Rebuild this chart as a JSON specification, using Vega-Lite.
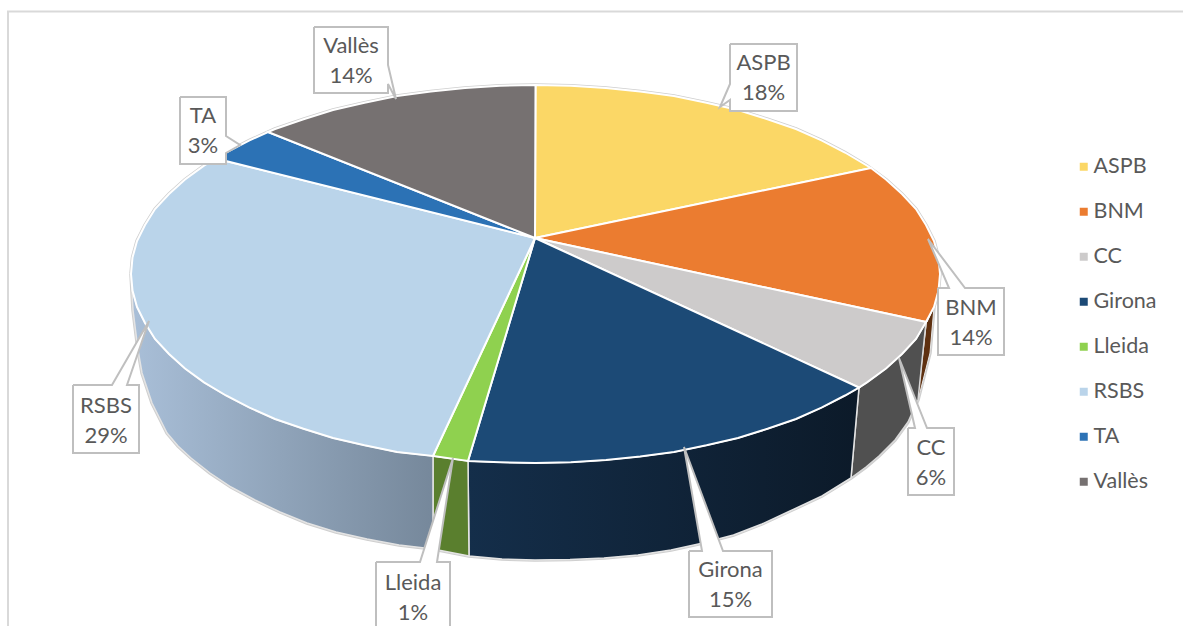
{
"$schema":"https://vega.github.io/schema/vega-lite/v6.json",
"width":1183,"height":626,"padding":0,"autosize":{"type":"none"},"background":"white",
"config":{"view":{"stroke":null},"font":"Lato"},
"datasets":{
"frame":[{"o":1,"x":8,"y":626},{"o":2,"x":8,"y":11.5},{"o":3,"x":1183,"y":11.5}],
"rim":[{"o":1,"x":131,"y":274},{"o":1.5,"x":132.5,"y":257.5},{"o":2,"x":137,"y":241},{"o":2.5,"x":145,"y":225},{"o":3,"x":155,"y":209},{"o":3.5,"x":169,"y":194},{"o":4,"x":185,"y":179.5},{"o":4.5,"x":204,"y":165.6},{"o":5,"x":226,"y":152.5},{"o":5.5,"x":249.5,"y":140.4},{"o":6,"x":275,"y":129},{"o":6.5,"x":303.5,"y":119.2},{"o":7,"x":333,"y":110},{"o":7.5,"x":364.5,"y":102.7},{"o":8,"x":397,"y":96},{"o":8.5,"x":430.8,"y":91.4},{"o":9,"x":465,"y":88},{"o":9.5,"x":500.2,"y":85.7},{"o":10,"x":535.5,"y":85},{"o":10.5,"x":570.8,"y":85.7},{"o":11,"x":606,"y":88},{"o":11.5,"x":640.2,"y":91.4},{"o":12,"x":674,"y":96},{"o":12.5,"x":706.5,"y":102.7},{"o":13,"x":738,"y":110},{"o":13.5,"x":767.5,"y":119.2},{"o":14,"x":796,"y":129},{"o":14.5,"x":821.5,"y":140.4},{"o":15,"x":845,"y":152.5},{"o":15.5,"x":867,"y":165.6},{"o":16,"x":886,"y":179.5},{"o":16.5,"x":902,"y":194},{"o":17,"x":916,"y":209},{"o":17.5,"x":926,"y":225},{"o":18,"x":934,"y":241},{"o":18.5,"x":938.5,"y":257.5},{"o":19,"x":940,"y":274},{"o":19.5,"x":938.5,"y":290.5},{"o":20,"x":934,"y":307},{"o":21,"x":930,"y":353},{"o":22,"x":918,"y":400},{"o":22.5,"x":913,"y":411},{"o":23,"x":908,"y":422},{"o":23.5,"x":895,"y":440},{"o":24,"x":879,"y":456},{"o":24.5,"x":866,"y":467},{"o":25,"x":851,"y":478},{"o":25.5,"x":822,"y":496},{"o":26,"x":790,"y":511},{"o":26.5,"x":762,"y":524},{"o":27,"x":733.5,"y":535},{"o":27.5,"x":703,"y":543},{"o":28,"x":671,"y":550},{"o":28.5,"x":638,"y":555},{"o":29,"x":604,"y":558},{"o":29.5,"x":570,"y":559.5},{"o":30,"x":535,"y":560},{"o":30.5,"x":502,"y":559},{"o":31,"x":469,"y":556},{"o":32,"x":433,"y":549},{"o":33,"x":399,"y":545},{"o":33.5,"x":367,"y":539},{"o":34,"x":336,"y":532},{"o":34.5,"x":307,"y":523},{"o":35,"x":280,"y":512},{"o":35.5,"x":255,"y":500},{"o":36,"x":231,"y":487},{"o":36.5,"x":210,"y":473},{"o":37,"x":191,"y":458},{"o":37.5,"x":178,"y":446},{"o":38,"x":167,"y":433},{"o":38.5,"x":152,"y":403},{"o":39,"x":142,"y":373},{"o":40,"x":138,"y":350},{"o":41,"x":133,"y":310},{"o":42,"x":131,"y":274}],
"sides":[
{"slice":"BNM","o":1,"x":927,"y":322},{"slice":"BNM","o":2,"x":934,"y":307},{"slice":"BNM","o":3,"x":930,"y":353},{"slice":"BNM","o":4,"x":918,"y":400},
{"slice":"CC","o":1,"x":926,"y":322},{"slice":"CC","o":2,"x":916,"y":339},{"slice":"CC","o":2.5,"x":902,"y":354},{"slice":"CC","o":3,"x":886,"y":368.5},{"slice":"CC","o":3.5,"x":867,"y":382.4},{"slice":"CC","o":4,"x":859,"y":387.5},{"slice":"CC","o":5,"x":851,"y":478},{"slice":"CC","o":5.5,"x":866,"y":467},{"slice":"CC","o":6,"x":879,"y":456},{"slice":"CC","o":6.5,"x":895,"y":440},{"slice":"CC","o":7,"x":908,"y":422},{"slice":"CC","o":7.5,"x":913,"y":411},{"slice":"CC","o":8,"x":918,"y":400},{"slice":"CC","o":9,"x":926,"y":322},
{"slice":"Girona","o":1,"x":468,"y":461},{"slice":"Girona","o":1.5,"x":500.2,"y":462.3},{"slice":"Girona","o":2,"x":535.5,"y":463},{"slice":"Girona","o":2.5,"x":570.8,"y":462.3},{"slice":"Girona","o":3,"x":606,"y":460},{"slice":"Girona","o":3.5,"x":640.2,"y":456.6},{"slice":"Girona","o":4,"x":674,"y":452},{"slice":"Girona","o":4.5,"x":706.5,"y":445.3},{"slice":"Girona","o":5,"x":738,"y":438},{"slice":"Girona","o":5.5,"x":767.5,"y":428.8},{"slice":"Girona","o":6,"x":796,"y":419},{"slice":"Girona","o":6.5,"x":821.5,"y":407.6},{"slice":"Girona","o":7,"x":845,"y":395.5},{"slice":"Girona","o":8,"x":859,"y":387.5},{"slice":"Girona","o":9,"x":851,"y":478},{"slice":"Girona","o":9.5,"x":822,"y":496},{"slice":"Girona","o":10,"x":790,"y":511},{"slice":"Girona","o":10.5,"x":762,"y":524},{"slice":"Girona","o":11,"x":733.5,"y":535},{"slice":"Girona","o":11.5,"x":703,"y":543},{"slice":"Girona","o":12,"x":671,"y":550},{"slice":"Girona","o":12.5,"x":638,"y":555},{"slice":"Girona","o":13,"x":604,"y":558},{"slice":"Girona","o":13.5,"x":570,"y":559.5},{"slice":"Girona","o":14,"x":535,"y":560},{"slice":"Girona","o":14.5,"x":502,"y":559},{"slice":"Girona","o":15,"x":469,"y":556},{"slice":"Girona","o":16,"x":468,"y":461},
{"slice":"Lleida","o":1,"x":433,"y":456},{"slice":"Lleida","o":2,"x":468,"y":461},{"slice":"Lleida","o":3,"x":469,"y":556},{"slice":"Lleida","o":4,"x":433,"y":549},{"slice":"Lleida","o":5,"x":433,"y":456},
{"slice":"RSBS","o":1,"x":433,"y":456},{"slice":"RSBS","o":2,"x":397,"y":452},{"slice":"RSBS","o":2.5,"x":364.5,"y":445.3},{"slice":"RSBS","o":3,"x":333,"y":438},{"slice":"RSBS","o":3.5,"x":303.5,"y":428.8},{"slice":"RSBS","o":4,"x":275,"y":419},{"slice":"RSBS","o":4.5,"x":249.5,"y":407.6},{"slice":"RSBS","o":5,"x":226,"y":395.5},{"slice":"RSBS","o":5.5,"x":204,"y":382.4},{"slice":"RSBS","o":6,"x":185,"y":368.5},{"slice":"RSBS","o":6.5,"x":169,"y":354},{"slice":"RSBS","o":7,"x":155,"y":339},{"slice":"RSBS","o":7.5,"x":145,"y":323},{"slice":"RSBS","o":8,"x":137,"y":307},{"slice":"RSBS","o":8.5,"x":132.5,"y":290.5},{"slice":"RSBS","o":9,"x":131,"y":274},{"slice":"RSBS","o":10,"x":133,"y":310},{"slice":"RSBS","o":11,"x":138,"y":350},{"slice":"RSBS","o":12,"x":142,"y":373},{"slice":"RSBS","o":12.5,"x":152,"y":403},{"slice":"RSBS","o":13,"x":167,"y":433},{"slice":"RSBS","o":13.5,"x":178,"y":446},{"slice":"RSBS","o":14,"x":191,"y":458},{"slice":"RSBS","o":14.5,"x":210,"y":473},{"slice":"RSBS","o":15,"x":231,"y":487},{"slice":"RSBS","o":15.5,"x":255,"y":500},{"slice":"RSBS","o":16,"x":280,"y":512},{"slice":"RSBS","o":16.5,"x":307,"y":523},{"slice":"RSBS","o":17,"x":336,"y":532},{"slice":"RSBS","o":17.5,"x":367,"y":539},{"slice":"RSBS","o":18,"x":399,"y":545},{"slice":"RSBS","o":19,"x":433,"y":549},{"slice":"RSBS","o":20,"x":433,"y":456}
],
"tops":[
{"slice":"ASPB","o":0,"x":535,"y":238},{"slice":"ASPB","o":1,"x":535.5,"y":85},{"slice":"ASPB","o":1.5,"x":570.8,"y":85.7},{"slice":"ASPB","o":2,"x":606,"y":88},{"slice":"ASPB","o":2.5,"x":640.2,"y":91.4},{"slice":"ASPB","o":3,"x":674,"y":96},{"slice":"ASPB","o":3.5,"x":706.5,"y":102.7},{"slice":"ASPB","o":4,"x":738,"y":110},{"slice":"ASPB","o":4.5,"x":767.5,"y":119.2},{"slice":"ASPB","o":5,"x":796,"y":129},{"slice":"ASPB","o":5.5,"x":821.5,"y":140.4},{"slice":"ASPB","o":6,"x":845,"y":152.5},{"slice":"ASPB","o":7,"x":871,"y":168},{"slice":"ASPB","o":8,"x":535,"y":238},
{"slice":"BNM","o":0,"x":535,"y":238},{"slice":"BNM","o":1,"x":871,"y":168},{"slice":"BNM","o":2,"x":886,"y":179.5},{"slice":"BNM","o":2.5,"x":902,"y":194},{"slice":"BNM","o":3,"x":916,"y":209},{"slice":"BNM","o":3.5,"x":926,"y":225},{"slice":"BNM","o":4,"x":934,"y":241},{"slice":"BNM","o":4.5,"x":938.5,"y":257.5},{"slice":"BNM","o":5,"x":940,"y":274},{"slice":"BNM","o":5.5,"x":938.5,"y":290.5},{"slice":"BNM","o":6,"x":934,"y":307},{"slice":"BNM","o":7,"x":926,"y":322},{"slice":"BNM","o":8,"x":535,"y":238},
{"slice":"CC","o":0,"x":535,"y":238},{"slice":"CC","o":1,"x":926,"y":322},{"slice":"CC","o":2,"x":916,"y":339},{"slice":"CC","o":2.5,"x":902,"y":354},{"slice":"CC","o":3,"x":886,"y":368.5},{"slice":"CC","o":3.5,"x":867,"y":382.4},{"slice":"CC","o":4,"x":859,"y":387.5},{"slice":"CC","o":5,"x":535,"y":238},
{"slice":"Girona","o":0,"x":535,"y":238},{"slice":"Girona","o":1,"x":859,"y":387.5},{"slice":"Girona","o":2,"x":845,"y":395.5},{"slice":"Girona","o":2.5,"x":821.5,"y":407.6},{"slice":"Girona","o":3,"x":796,"y":419},{"slice":"Girona","o":3.5,"x":767.5,"y":428.8},{"slice":"Girona","o":4,"x":738,"y":438},{"slice":"Girona","o":4.5,"x":706.5,"y":445.3},{"slice":"Girona","o":5,"x":674,"y":452},{"slice":"Girona","o":5.5,"x":640.2,"y":456.6},{"slice":"Girona","o":6,"x":606,"y":460},{"slice":"Girona","o":6.5,"x":570.8,"y":462.3},{"slice":"Girona","o":7,"x":535.5,"y":463},{"slice":"Girona","o":7.5,"x":500.2,"y":462.3},{"slice":"Girona","o":8,"x":468,"y":461},{"slice":"Girona","o":9,"x":535,"y":238},
{"slice":"Lleida","o":0,"x":535,"y":238},{"slice":"Lleida","o":1,"x":468,"y":461},{"slice":"Lleida","o":2,"x":433,"y":456},{"slice":"Lleida","o":3,"x":535,"y":238},
{"slice":"RSBS","o":0,"x":535,"y":238},{"slice":"RSBS","o":1,"x":433,"y":456},{"slice":"RSBS","o":2,"x":397,"y":452},{"slice":"RSBS","o":2.5,"x":364.5,"y":445.3},{"slice":"RSBS","o":3,"x":333,"y":438},{"slice":"RSBS","o":3.5,"x":303.5,"y":428.8},{"slice":"RSBS","o":4,"x":275,"y":419},{"slice":"RSBS","o":4.5,"x":249.5,"y":407.6},{"slice":"RSBS","o":5,"x":226,"y":395.5},{"slice":"RSBS","o":5.5,"x":204,"y":382.4},{"slice":"RSBS","o":6,"x":185,"y":368.5},{"slice":"RSBS","o":6.5,"x":169,"y":354},{"slice":"RSBS","o":7,"x":155,"y":339},{"slice":"RSBS","o":7.5,"x":145,"y":323},{"slice":"RSBS","o":8,"x":137,"y":307},{"slice":"RSBS","o":8.5,"x":132.5,"y":290.5},{"slice":"RSBS","o":9,"x":131,"y":274},{"slice":"RSBS","o":9.5,"x":132.5,"y":257.5},{"slice":"RSBS","o":10,"x":137,"y":241},{"slice":"RSBS","o":10.5,"x":145,"y":225},{"slice":"RSBS","o":11,"x":155,"y":209},{"slice":"RSBS","o":11.5,"x":169,"y":194},{"slice":"RSBS","o":12,"x":185,"y":179.5},{"slice":"RSBS","o":12.5,"x":204,"y":165.6},{"slice":"RSBS","o":13,"x":216,"y":158.5},{"slice":"RSBS","o":14,"x":535,"y":238},
{"slice":"TA","o":0,"x":535,"y":238},{"slice":"TA","o":1,"x":216,"y":158.5},{"slice":"TA","o":2,"x":226,"y":152.5},{"slice":"TA","o":2.5,"x":249.5,"y":140.4},{"slice":"TA","o":3,"x":268,"y":132},{"slice":"TA","o":4,"x":535,"y":238},
{"slice":"Vallès","o":0,"x":535,"y":238},{"slice":"Vallès","o":1,"x":268,"y":132},{"slice":"Vallès","o":2,"x":275,"y":129},{"slice":"Vallès","o":2.5,"x":303.5,"y":119.2},{"slice":"Vallès","o":3,"x":333,"y":110},{"slice":"Vallès","o":3.5,"x":364.5,"y":102.7},{"slice":"Vallès","o":4,"x":397,"y":96},{"slice":"Vallès","o":4.5,"x":430.8,"y":91.4},{"slice":"Vallès","o":5,"x":465,"y":88},{"slice":"Vallès","o":5.5,"x":500.2,"y":85.7},{"slice":"Vallès","o":6,"x":535.5,"y":85},{"slice":"Vallès","o":7,"x":535,"y":238}
],
"callouts":[
{"slice":"Vallès","o":1,"x":314,"y":27},{"slice":"Vallès","o":2,"x":388,"y":27},{"slice":"Vallès","o":3,"x":388,"y":65},{"slice":"Vallès","o":4,"x":396,"y":99},{"slice":"Vallès","o":5,"x":388,"y":84},{"slice":"Vallès","o":6,"x":388,"y":93},{"slice":"Vallès","o":7,"x":314,"y":93},{"slice":"Vallès","o":8,"x":314,"y":27},
{"slice":"TA","o":1,"x":180,"y":97},{"slice":"TA","o":2,"x":226,"y":97},{"slice":"TA","o":3,"x":226,"y":136},{"slice":"TA","o":4,"x":240,"y":145},{"slice":"TA","o":5,"x":226,"y":153},{"slice":"TA","o":6,"x":226,"y":164},{"slice":"TA","o":7,"x":180,"y":164},{"slice":"TA","o":8,"x":180,"y":97},
{"slice":"ASPB","o":1,"x":730,"y":44},{"slice":"ASPB","o":2,"x":797,"y":44},{"slice":"ASPB","o":3,"x":797,"y":111},{"slice":"ASPB","o":4,"x":730,"y":111},{"slice":"ASPB","o":5,"x":730,"y":100},{"slice":"ASPB","o":6,"x":720,"y":107},{"slice":"ASPB","o":7,"x":730,"y":84},{"slice":"ASPB","o":8,"x":730,"y":44},
{"slice":"BNM","o":1,"x":938,"y":288},{"slice":"BNM","o":2,"x":949,"y":288},{"slice":"BNM","o":3,"x":928,"y":239},{"slice":"BNM","o":4,"x":965,"y":288},{"slice":"BNM","o":5,"x":1004,"y":288},{"slice":"BNM","o":6,"x":1004,"y":355},{"slice":"BNM","o":7,"x":938,"y":355},{"slice":"BNM","o":8,"x":938,"y":288},
{"slice":"CC","o":1,"x":908,"y":428},{"slice":"CC","o":2,"x":915,"y":428},{"slice":"CC","o":3,"x":899,"y":358},{"slice":"CC","o":4,"x":927,"y":428},{"slice":"CC","o":5,"x":954,"y":428},{"slice":"CC","o":6,"x":954,"y":495},{"slice":"CC","o":7,"x":908,"y":495},{"slice":"CC","o":8,"x":908,"y":428},
{"slice":"Girona","o":1,"x":689,"y":551},{"slice":"Girona","o":2,"x":702,"y":551},{"slice":"Girona","o":3,"x":684,"y":447},{"slice":"Girona","o":4,"x":723,"y":551},{"slice":"Girona","o":5,"x":772,"y":551},{"slice":"Girona","o":6,"x":772,"y":617},{"slice":"Girona","o":7,"x":689,"y":617},{"slice":"Girona","o":8,"x":689,"y":551},
{"slice":"Lleida","o":1,"x":376,"y":562},{"slice":"Lleida","o":2,"x":420,"y":562},{"slice":"Lleida","o":3,"x":453,"y":458},{"slice":"Lleida","o":4,"x":437,"y":562},{"slice":"Lleida","o":5,"x":450,"y":562},{"slice":"Lleida","o":6,"x":450,"y":640},{"slice":"Lleida","o":7,"x":376,"y":640},{"slice":"Lleida","o":8,"x":376,"y":562},
{"slice":"RSBS","o":1,"x":73,"y":385},{"slice":"RSBS","o":2,"x":112,"y":385},{"slice":"RSBS","o":3,"x":149,"y":321},{"slice":"RSBS","o":4,"x":127,"y":385},{"slice":"RSBS","o":5,"x":139,"y":385},{"slice":"RSBS","o":6,"x":139,"y":453},{"slice":"RSBS","o":7,"x":73,"y":453},{"slice":"RSBS","o":8,"x":73,"y":385}
],
"labels":[
{"label":"Vallès\n14%","x":351,"y":46},
{"label":"TA\n3%","x":203,"y":116},
{"label":"ASPB\n18%","x":763.5,"y":63},
{"label":"BNM\n14%","x":971,"y":308},
{"label":"CC\n6%","x":931,"y":448},
{"label":"Girona\n15%","x":730.5,"y":570},
{"label":"Lleida\n1%","x":413,"y":583},
{"label":"RSBS\n29%","x":106,"y":406}
]
},
"encoding":{
"x":{"field":"x","type":"quantitative","scale":{"domain":[0,1183],"nice":false,"zero":false},"axis":null},
"y":{"field":"y","type":"quantitative","scale":{"domain":[626,0],"nice":false,"zero":false},"axis":null},
"order":{"field":"o","type":"quantitative"}
},
"layer":[
{"data":{"name":"frame"},"mark":{"type":"line","stroke":"#d9d9d9","strokeWidth":2}},
{"data":{"name":"rim"},"mark":{"type":"line","stroke":"#cfcfcf","strokeWidth":3.5}},
{"data":{"name":"sides"},"transform":[{"filter":"datum.slice==='BNM'"}],"mark":{"type":"line","fill":"#5e3010","stroke":"#e8e8e8","strokeWidth":1}},
{"data":{"name":"sides"},"transform":[{"filter":"datum.slice==='CC'"}],"mark":{"type":"line","fill":"#505050","stroke":"#d8d8d8","strokeWidth":1.5}},
{"data":{"name":"sides"},"transform":[{"filter":"datum.slice==='Girona'"}],"mark":{"type":"line","fill":{"gradient":"linear","x1":0,"y1":0,"x2":1,"y2":0,"stops":[{"offset":0,"color":"#142e4a"},{"offset":1,"color":"#0c1a29"}]},"stroke":"#e4e4e4","strokeWidth":1.5}},
{"data":{"name":"sides"},"transform":[{"filter":"datum.slice==='Lleida'"}],"mark":{"type":"line","fill":"#5a7f2e","stroke":"#e4e4e4","strokeWidth":1.5}},
{"data":{"name":"sides"},"transform":[{"filter":"datum.slice==='RSBS'"}],"mark":{"type":"line","fill":{"gradient":"linear","x1":0,"y1":0,"x2":1,"y2":0,"stops":[{"offset":0,"color":"#a9bfd8"},{"offset":1,"color":"#76889b"}]},"stroke":"#e4e4e4","strokeWidth":1.5}},
{"data":{"name":"tops"},"mark":{"type":"line","stroke":"white","strokeWidth":2},
 "encoding":{"fill":{"field":"slice","type":"nominal",
  "scale":{"domain":["ASPB","BNM","CC","Girona","Lleida","RSBS","TA","Vallès"],"range":["#fbd766","#eb7c30","#cdcbcb","#1c4a76","#8fd14f","#bad4ea","#2c72b5","#767171"]},
  "legend":{"title":null,"orient":"none","legendX":1073,"legendY":156,"symbolType":"square","symbolSize":64,"symbolStrokeWidth":0,"labelFont":"Lato","labelFontSize":21.5,"labelColor":"#595959","rowPadding":22,"labelOffset":-1,"labelLimit":120}}}},
{"data":{"name":"callouts"},"mark":{"type":"line","fill":"white","stroke":"#bfbfbf","strokeWidth":2,"clip":true},"encoding":{"detail":{"field":"slice","type":"nominal"}}},
{"data":{"name":"labels"},"mark":{"type":"text","font":"Lato","fontSize":22,"color":"#595959","lineBreak":"\n","lineHeight":30,"align":"center","baseline":"middle"},
 "encoding":{"text":{"field":"label","type":"nominal"},"order":null}}
]
}
